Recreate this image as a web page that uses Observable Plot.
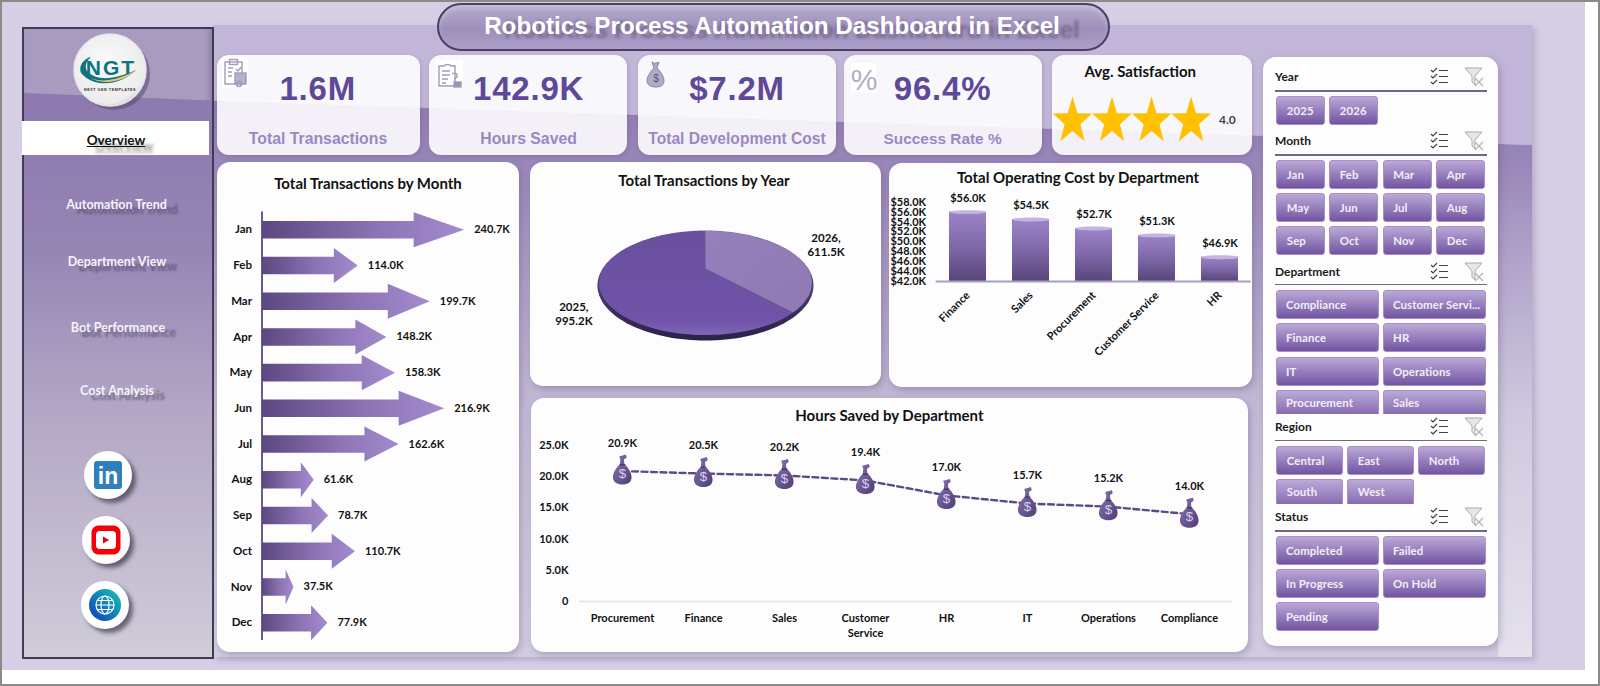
<!DOCTYPE html>
<html><head><meta charset="utf-8">
<script src="https://cdn.jsdelivr.net/npm/d3@7"></script>
<script src="https://cdn.jsdelivr.net/npm/@observablehq/plot@0.6"></script>
<style>
html,body{margin:0;padding:0;background:#fff;width:1600px;height:686px;overflow:hidden}
.a{position:absolute;box-sizing:border-box}
.t{position:absolute;transform:translate(-50%,-50%);white-space:nowrap;line-height:1}
.kv{font:700 33px "Liberation Sans",Arial,sans-serif;color:#5f4898;letter-spacing:.8px}
.kl{font:700 15.8px "Liberation Sans",Arial,sans-serif;color:#9b88c2}
.ct{font:700 15px Lato,sans-serif;color:#111;margin-top:-1.5px}
.nav{font:700 12.5px Lato,sans-serif;color:#f6f3fa;text-shadow:11px 5px 2px rgba(55,45,75,.5)}
.card{position:absolute;background:#fdfdfe;border-radius:13px;box-shadow:2px 3px 7px rgba(70,55,100,.28)}
.kpi{position:absolute;background:rgba(255,255,255,.89);border-radius:12px;box-shadow:1px 2px 4px rgba(70,55,100,.18)}
.btn{position:absolute;box-sizing:border-box;background:linear-gradient(#bba9d8,#7254a1);border:1px solid #a98fc6;border-radius:3px;color:#f2eef8;font:700 11.4px Lato,sans-serif;letter-spacing:.1px;padding-left:9.5px;display:flex;align-items:center;white-space:nowrap;overflow:hidden}
.hd{position:absolute;font:700 12px Lato,sans-serif;color:#1a1a1a;transform:translateY(-50%);line-height:1}
.ln{position:absolute;height:1.5px;background:#6f6783}
.plot{position:absolute}
.plot svg{display:block}
</style></head><body>
<svg width="0" height="0" style="position:absolute"><defs>
<linearGradient id="arrowGrad" x1="0" x2="1" y1="0" y2="0"><stop offset="0" stop-color="#5c4880"/><stop offset=".55" stop-color="#8b72b2"/><stop offset="1" stop-color="#a38bcf"/></linearGradient>
<linearGradient id="cylGrad" x1="0" x2="0" y1="0" y2="1"><stop offset="0" stop-color="#9c84c8"/><stop offset=".5" stop-color="#7f68a8"/><stop offset="1" stop-color="#574678"/></linearGradient>
<linearGradient id="rimGrad" x1="0" x2="0" y1="0" y2="1"><stop offset="0" stop-color="#7a65a4"/><stop offset=".7" stop-color="#3d2f60"/><stop offset="1" stop-color="#2c2148"/></linearGradient>
<linearGradient id="slice25" x1="0" x2="0" y1="0" y2="1"><stop offset="0" stop-color="#6a4f9e"/><stop offset=".85" stop-color="#7053a8"/><stop offset="1" stop-color="#7f64b8"/></linearGradient>
<linearGradient id="slice26" x1="0" x2="1" y1="0" y2="1"><stop offset="0" stop-color="#9480bb"/><stop offset="1" stop-color="#8f7ab3"/></linearGradient>
</defs></svg>
<div id="root"></div>
<script>
// ---------- data ----------
const months = ["Jan","Feb","Mar","Apr","May","Jun","Jul","Aug","Sep","Oct","Nov","Dec"];
const transactionsByMonth = [240.7,114.0,199.7,148.2,158.3,216.9,162.6,61.6,78.7,110.7,37.5,77.9];
const years = [2026,2025];
const transactionsByYear = [611.5,995.2];
const costDepartments = ["Finance","Sales","Procurement","Customer Service","HR"];
const operatingCost = [56.0,54.5,52.7,51.3,46.9];
const hoursDepartments = ["Procurement","Finance","Sales","Customer Service","HR","IT","Operations","Compliance"];
const hoursSaved = [20.9,20.5,20.2,19.4,17.0,15.7,15.2,14.0];
const kpiValues = ["1.6M","142.9K","$7.2M","96.4%"];
const kpiLabels = ["Total Transactions","Hours Saved","Total Development Cost","Success Rate %"];
const satisfaction = 4;
const navItems = ["Overview","Automation Trend","Department View","Bot Performance","Cost Analysis"];
const slicerYear = ["2025","2026"];
const slicerDepartment = ["Compliance","Customer Servi...","Finance","HR","IT","Operations","Procurement","Sales"];
const slicerRegion = ["Central","East","North","South","West"];
const slicerStatus = ["Completed","Failed","In Progress","On Hold","Pending"];

// ---------- helpers ----------
const root = document.getElementById("root");
function box(x,y,w,h,css,cls,html){const d=document.createElement("div");d.className=cls||"a";
  d.style.cssText=`left:${x}px;top:${y}px;width:${w}px;height:${h}px;`+(css||"");if(html)d.innerHTML=html;root.appendChild(d);return d;}
function txt(s,x,y,cls,css){const d=document.createElement("div");d.className="t "+(cls||"");
  d.style.cssText=`left:${x}px;top:${y}px;`+(css||"");d.textContent=s;root.appendChild(d);return d;}
function place(x,y,node){const d=document.createElement("div");d.className="plot";d.style.left=x+"px";d.style.top=y+"px";d.appendChild(node);root.appendChild(d);}
const plotStyle={background:"transparent",overflow:"visible",fontFamily:"Lato,sans-serif",fontWeight:700,color:"#111"};

// ---------- page chrome ----------
box(0,0,1600,686,"border:2px solid #8a8a8a;border-top-width:2px;background:#fff");
box(2,2,1583,668,"background:#d6cee5");
box(213,25,1319,632,"background:linear-gradient(#c1b5d8,#c3b8d9);box-shadow:3px 3px 6px rgba(80,70,110,.25)");
box(213,25,1319,632,"background:linear-gradient(#8e7ab1 12%,#a797c3 34%,#c3bbd6 62%,#d2cce0 100%);clip-path:polygon(0 12%,100% 19%,100% 100%,0 100%)");
box(1498,170,34,487,"background:linear-gradient(rgba(255,255,255,0),rgba(255,255,255,.4))");
// title pill
box(437,3,673,48,"border-radius:24px;border:2px solid #4a3f63;background:linear-gradient(#b7abcc,#9d8fbc 55%,#ab9ec6);box-shadow:inset 0 3px 5px rgba(255,255,255,.25)");
txt("Robotics Process Automation Dashboard in Excel",772,26,"","font:700 24.2px 'Liberation Sans',Arial,sans-serif;color:#fff;text-shadow:20px 4px 3px rgba(70,60,95,.45)");

// sidebar
box(22,27,192,632,"background:#a99ac0;border:2px solid #3f3b52;box-shadow:inset -3px -3px 4px rgba(90,85,110,.35)");
box(24,29,188,628,"background:linear-gradient(#8c79af 10%,#9585b4 35%,#b2a6c4 60%,#d0ccd9 100%);clip-path:polygon(0 10.2%,100% 11.4%,100% 100%,0 100%)");
box(22,121,187,34,"background:#fff");
navItems.forEach((n,i)=>{
  const ys=[140,203.7,261,326.7,390], xs=[116,116.5,117,118,117];
  txt(n,xs[i],ys[i],"nav",i==0?"font-size:13.5px;color:#111;text-decoration:underline;text-shadow:8px 6px 3px rgba(70,70,70,.55)":"");
});
// logo
box(74,34,72,72,"",null,`<svg width="76" height="78" style="overflow:visible"><defs><radialGradient id="lg" cx=".45" cy=".4" r=".65"><stop offset="0" stop-color="#fafafa"/><stop offset=".85" stop-color="#ececec"/><stop offset="1" stop-color="#c9c7cc"/></radialGradient></defs>
<circle cx="40" cy="40" r="36" fill="#57486e" opacity=".55"/><circle cx="36" cy="36" r="36" fill="url(#lg)" stroke="#e8e6ec" stroke-width="1.5"/>
<text x="37" y="41" text-anchor="middle" font-family="Liberation Sans" font-weight="700" font-size="21" letter-spacing="2" fill="#0e7480">NGT</text>
<path d="M7 39 C4 30 12 24 17 23 C11 28 11 34 13 37 C24 49 44 44 62 36 C48 50 22 56 7 39Z" fill="#0e7480"/>
<path d="M16 44 C30 50 48 44 63 36 C50 47 32 52 16 44Z" fill="#f0c36a"/>
<text x="36" y="57" text-anchor="middle" font-family="Liberation Sans" font-weight="700" font-size="3.8" letter-spacing=".5" fill="#333">NEXT GEN TEMPLATES</text></svg>`);
// social icons
function social(cx,cy,inner){box(cx-24,cy-24,48,48,"border-radius:50%;background:#fff;box-shadow:4px 4px 4px rgba(50,45,65,.65)",null,
  `<svg width="48" height="48">${inner}</svg>`);}
social(107.7,475,`<rect x="10" y="10" width="28" height="28" rx="3" fill="#2f7fbf"/><text x="24" y="33" text-anchor="middle" font-family="Liberation Sans" font-weight="700" font-size="23" fill="#fff">in</text>`);
social(106,540,`<rect x="9.5" y="9.5" width="29" height="29" rx="7" fill="#f40009"/><rect x="14" y="15" width="20" height="18" rx="4" fill="#fff"/><path d="M21 20.5L27 24L21 27.5Z" fill="#e00"/>`);
social(105,605,`<defs><linearGradient id="gl" x1="1" y1="0" x2="0" y2="1"><stop offset="0" stop-color="#19c8b0"/><stop offset="1" stop-color="#1038c0"/></linearGradient></defs><circle cx="24" cy="24" r="16" fill="url(#gl)"/><g fill="none" stroke="#fff" stroke-width="1.2"><circle cx="24" cy="24" r="9"/><ellipse cx="24" cy="24" rx="4" ry="9"/><path d="M15 24H33M16.5 19.5H31.5M16.5 28.5H31.5"/></g>`);

// ---------- KPI cards ----------
const kpiBoxes=[[216.5,203],[429,198],[638,198],[844,198],[1052,200]];
kpiBoxes.forEach(([x,w])=>box(x,55,w,99.5,"","kpi"));
[317.7,528.6,737,942.6].forEach((c,i)=>{txt(kpiValues[i],c,89,"kv");txt(kpiLabels[i],c+(i==0?.3:0),139,"kl",i==2?"font-size:15.6px":i==3?"font-size:15.4px":"");});
const ic="fill:none;stroke:#a39ab8;stroke-width:1.4";
box(222,57,26,31,"background:#fff",null,`<svg width="26" height="31" style="${ic}"><rect x="3" y="5" width="17" height="22"/><rect x="7.5" y="2.5" width="8" height="5"/><path d="M6 11h5M6 15h4M6 19h4M14 12l2 2 3-4"/><rect x="13" y="16" width="11" height="11" fill="#b7b0c8"/><circle cx="17" cy="27" r="2.5"/></svg>`);
box(436,60,27,28,"background:#fff",null,`<svg width="27" height="28" style="${ic}"><path d="M3 6h5a4 3 0 0 1 7 0h4v20h-16zM6 11h8M6 15h8M6 19h6M6 23h4"/><path d="M16 14c3-2 6 0 5 3l-3 2M19 21v1"/><rect x="18" y="22" width="7" height="5" fill="#9b93b0"/></svg>`);
box(644,60,24,28,"",null,`<svg width="24" height="28"><path d="M8 2c2 2 5 1 7 0l-2 6c3 3 7 8 7 13 0 4-3 6-8 6s-9-2-9-6c0-5 4-10 7-13z" fill="#b2a9c8" stroke="#8b84a0"/><text x="12" y="22" text-anchor="middle" font-size="10" font-family="Liberation Sans" fill="#5c5570">$</text></svg>`);
box(851,63,25,30,"background:#fff");
txt("%",864,80,"","font:400 30px 'Liberation Sans',sans-serif;color:#b3adc4");
txt("Avg. Satisfaction",1140.3,72.7,"ct","font-size:15px");
txt(satisfaction.toFixed(1),1227.4,119,"","font:700 12px Lato,sans-serif;color:#444");

// ---------- chart cards ----------
box(216.5,162,302.5,490,"","card");
box(529.5,162,351,224,"","card");
box(889.4,163,362.6,224,"","card");
box(531,398,717,254,"","card");
box(1263,57,235,589,"","card");
txt("Total Transactions by Month",368,184,"ct");
txt("Total Transactions by Year",704,181.7,"ct");
txt("Total Operating Cost by Department",1078,178,"ct");
txt("Hours Saved by Department",889.4,416,"ct");

// ---------- stars ----------
const starShape={draw(c,size){const R=Math.sqrt(size/Math.PI);
  for(let i=0;i<10;i++){const a=i*Math.PI/5,r=i%2?R*.40:R,x=r*Math.sin(a)*.84,y=-r*Math.cos(a);i?c.lineTo(x,y):c.moveTo(x,y);}c.closePath();}};
place(1052,85,Plot.plot({width:200,height:71.4,margin:0,marginLeft:20,marginRight:61.4,style:plotStyle,
  x:{domain:[1,satisfaction],axis:null},
  marks:[Plot.dot(d3.range(1,satisfaction+1),{x:d=>d,r:24.7,symbol:starShape,fill:"#ffc000",stroke:"none"})]}));

// ---------- arrows: Total Transactions by Month ----------
const shaft=.245, head=.49, headStart=.75;
const arrowPoints=transactionsByMonth.flatMap((v,i)=>[
  [0,i-shaft],[v*headStart,i-shaft],[v*headStart,i-head],[v,i],[v*headStart,i+head],[v*headStart,i+shaft],[0,i+shaft]
].map(([x,y])=>({x,y,i})));
const monthRows=transactionsByMonth.map((v,i)=>({v,i}));
place(216.5,162,Plot.plot({width:302.5,height:490,marginLeft:44.5,marginRight:48,marginTop:49.4,marginBottom:12,style:{...plotStyle,fontSize:"11px"},
  x:{domain:[0,250],axis:null},
  y:{domain:[11.5,-.5],axis:null},
  marks:[
    Plot.axisY({ticks:d3.range(12),tickFormat:i=>months[i],tickSize:0,tickPadding:10,label:null,fontSize:11.5}),
    Plot.line(arrowPoints,{x:"x",y:"y",z:"i",fill:"url(#arrowGrad)",stroke:"none",curve:"linear"}),
    Plot.ruleX([0],{stroke:"#5d4a85",strokeWidth:1.8}),
    Plot.text(monthRows,{x:"v",y:"i",text:d=>d.v.toFixed(1)+"K",textAnchor:"start",dx:10,fontSize:11,fill:"#111"})
  ]}));

// ---------- pie: Total Transactions by Year ----------
const k=.28,total=d3.sum(transactionsByYear);
function proj(theta,r){const X=r*Math.sin(theta),Y=r*Math.cos(theta),d=1+k*Y;
  return {x:(X/d)*Math.sqrt(1-k*k),y:((Y/d)+k/(1-k*k))*(1-k*k)};}
function sector(a0,a1,key,face){const pts=[];const f=p=>face?{x:p.x*.985,y:p.y*.945+.045,key}:{...p,key};
  if(a1-a0<Math.PI*1.999)pts.push(f(proj(0,0)));
  const n=Math.ceil((a1-a0)/(Math.PI/90));
  for(let i=0;i<=n;i++)pts.push(f(proj(a0+(a1-a0)*i/n,1)));
  return pts;}
let acc=0;
const sliceAngles=transactionsByYear.map(v=>{const a0=acc/total*2*Math.PI;acc+=v;return [a0,acc/total*2*Math.PI];});
const rimPts=sector(0,2*Math.PI,"rim",false);
const p26=sector(...sliceAngles[0],"2026",true), p25=sector(...sliceAngles[1],"2025",true);
const yearLabels=years.map((y,i)=>{const m=(sliceAngles[i][0]+sliceAngles[i][1])/2;return {x:1.2*Math.sin(m),y:1.3*Math.cos(m),text:`${y},\n${transactionsByYear[i].toFixed(1)}K`,y0:y};});
place(529.5,162,Plot.plot({width:351,height:224,margin:0,style:{...plotStyle,fontSize:"11.5px"},
  x:{domain:[-1.62,1.63],axis:null},y:{domain:[-1.836,2.236],axis:null},
  marks:[
    Plot.line(rimPts,{x:"x",y:"y",fill:"url(#rimGrad)",stroke:"none",curve:"linear"}),
    Plot.line(p25,{x:"x",y:"y",fill:"url(#slice25)",stroke:"none",curve:"linear"}),
    Plot.line(p26,{x:"x",y:"y",fill:"url(#slice26)",stroke:"none",curve:"linear"}),
    Plot.text(yearLabels.filter(d=>d.y0==2026),{x:"x",y:"y",text:"text",dx:0,dy:-15,lineHeight:1.25,fill:"#111"}),
    Plot.text(yearLabels.filter(d=>d.y0==2025),{x:"x",y:"y",text:"text",dx:-11,dy:2,lineHeight:1.25,fill:"#111"})
  ]}));

// ---------- cylinders: Total Operating Cost by Department ----------
const costRows=costDepartments.map((d,i)=>({d,v:operatingCost[i]}));
const capShape={draw(c){const rx=18.6,ry=2.6,m=.5523;c.moveTo(-rx,0);
  c.bezierCurveTo(-rx,-ry*m*1.8,rx,-ry*m*1.8,rx,0);c.bezierCurveTo(rx,ry*m*1.8,-rx,ry*m*1.8,-rx,0);c.closePath();}};
place(889.4,163,Plot.plot({width:362.6,height:224,marginLeft:46.6,marginRight:1,marginTop:38.7,marginBottom:106,style:{...plotStyle,fontSize:"11px"},
  x:{domain:costDepartments,paddingInner:.41,paddingOuter:.205,axis:null},
  y:{domain:[42,58],axis:null},
  marks:[
    Plot.axisY({ticks:d3.range(42,59,2),tickFormat:v=>"$"+v.toFixed(1)+"K",tickSize:0,tickPadding:10,label:null,fontSize:11}),
    Plot.barY(costRows,{x:"d",y1:()=>42,y2:"v",fill:"url(#cylGrad)"}),
    Plot.dot(costRows,{x:"d",y:"v",symbol:capShape,r:5,fill:"#c4b5df",stroke:"none"}),
    Plot.ruleY([42],{stroke:"#a79dbf",strokeWidth:1.8}),
    Plot.text(costRows,{x:"d",y:"v",text:d=>"$"+d.v.toFixed(1)+"K",dy:-14,fontSize:11,fill:"#111"}),
    Plot.axisX({tickRotate:-45,tickSize:0,tickPadding:12,label:null,fontSize:11,textAnchor:"end"})
  ]}));

// ---------- line: Hours Saved by Department ----------
const bag=`<svg xmlns="http://www.w3.org/2000/svg" viewBox="0 0 22 32"><defs><linearGradient id="b" x1="0" x2="1" y1="0" y2="1"><stop offset="0" stop-color="#8a74b2"/><stop offset="1" stop-color="#4e3f74"/></linearGradient></defs><path d="M7.5 2.5l7-2 1 3-3 2.2 .6 5c4.4 3.5 7.4 9 7.4 13.3 0 5-4 7.5-9.5 7.5S1 29 1 24c0-4.3 3-9.800 7.200-13.200l.5-5z" fill="url(#b)"/><path d="M8 11h6" stroke="#3f3260" stroke-width="1.200"/><text x="11" y="25" text-anchor="middle" font-family="Liberation Sans" font-size="14" fill="#d9cff0">$</text></svg>`;
const bagSrc="data:image/svg+xml,"+encodeURIComponent(bag);
const hourRows=hoursDepartments.map((d,i)=>({d,v:hoursSaved[i]}));
place(531,398,Plot.plot({width:717,height:254,marginLeft:48,marginRight:16.4,marginTop:47,marginBottom:51,style:{...plotStyle,fontSize:"11px"},
  x:{type:"point",domain:hoursDepartments,padding:.5,axis:null},
  y:{domain:[0,25],axis:null},
  marks:[
    Plot.axisY({ticks:[0,5,10,15,20,25],tickFormat:v=>v?v.toFixed(1)+"K":"0",tickSize:0,tickPadding:11,label:null,fontSize:11}),
    Plot.axisX({tickSize:0,tickPadding:10,label:null,fontSize:11,tickFormat:d=>d.replace(" ","\n"),lineHeight:1.35}),
    Plot.ruleY([0],{stroke:"#e4e4e6",strokeWidth:1.6}),
    Plot.line(hourRows,{x:"d",y:"v",stroke:"#5b4a85",strokeWidth:2.4,strokeDasharray:"6 3.5",curve:"linear"}),
    Plot.image(hourRows,{x:"d",y:"v",src:bagSrc,width:21,height:31,dy:-1.5,preserveAspectRatio:"none"}),
    Plot.text(hourRows,{x:"d",y:"v",text:d=>d.v.toFixed(1)+"K",dy:-28,fontSize:11,fill:"#111"})
  ]}));

// ---------- slicers ----------
const cols2=[[1275.5,103.2],[1382.5,103.2]], cols3=[[1276.3,67],[1347.3,67],[1418.3,67]], cols4=[[1276.3,49.2],[1329.3,49.2],[1382.7,49.6],[1436.3,49.2]];
function slicer(name,hy,ly,items,cols,rows,clipLast){
  const d=document.createElement("div");d.className="hd";d.style.left="1275px";d.style.top=hy+"px";d.textContent=name;root.appendChild(d);
  const l=document.createElement("div");l.className="ln";l.style.cssText=`left:1275px;top:${ly}px;width:212px`;root.appendChild(l);
  box(1430,hy-10,18,20,"",null,`<svg width="20" height="20" fill="none" stroke="#444" stroke-width="1.2"><path d="M1 3l2 2 4-4M1 9l2 2 4-4M1 15l2 2 4-4M9 3.500h9M9 9.500h9M9 15.500h9"/></svg>`);
  box(1464,hy-10,20,20,"",null,`<svg width="20" height="20"><path d="M1 1H18L11 9V18L8 15V9Z" fill="#e7e7e7" stroke="#aaa"/><path d="M11 11l8 8M19 11l-8 8" stroke="#b5b5b5" stroke-width="1.200"/></svg>`);
  items.forEach((t,i)=>{const c=cols[i%cols.length],r=rows[Math.floor(i/cols.length)],last=clipLast&&r==rows[rows.length-1];
    const b=box(c[0],r,c[1],last?clipLast:29,last?"border-bottom:none;border-radius:3px 3px 0 0;background:linear-gradient(#bba9d8,#7254a1 140%)":"","btn");b.textContent=t;});
}
slicer("Year",77,90,slicerYear,cols4,[95.7]);
slicer("Month",141,154,months,cols4,[159.7,193,226.3]);
slicer("Department",271.7,283.5,slicerDepartment,cols2,[290,323.3,356.7,390],24);
slicer("Region",427,439.7,slicerRegion,cols3,[445.7,479],24.7);
slicer("Status",517,530,slicerStatus,cols2,[535.7,569,602.3]);
</script>
</body></html>
